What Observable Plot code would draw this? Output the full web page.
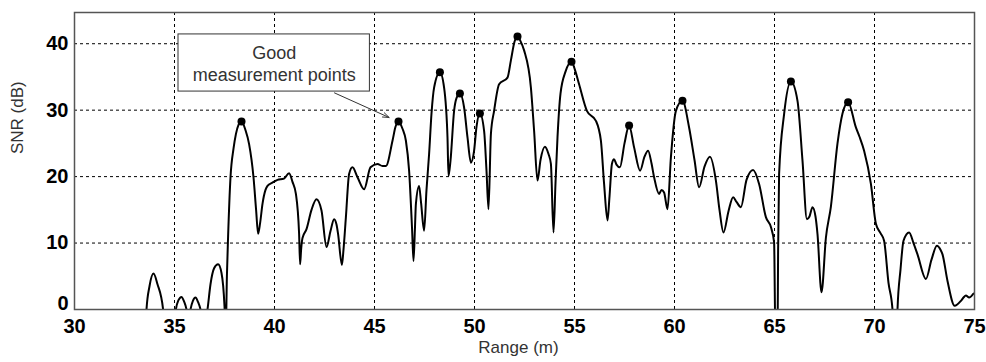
<!DOCTYPE html>
<html>
<head>
<meta charset="utf-8">
<script src="https://cdn.jsdelivr.net/npm/d3@7"></script>
<script src="https://cdn.jsdelivr.net/npm/@observablehq/plot@0.6"></script>
<style>
  html, body { margin: 0; padding: 0; background: #fff; }
  #chart svg { display: block; }
</style>
</head>
<body>
<div id="chart"></div>
<script>
// SNR trace (range in m, SNR in dB); values below 0 are clipped by the axes
const rangeM = [
  33.55, 33.6, 33.75, 33.95, 34.15, 34.43, 34.5, 35.0, 35.07, 35.2, 35.35, 35.48, 35.6, 35.7, 35.8, 35.92, 36.05, 36.18, 36.3, 36.45,
  36.65, 36.8, 36.98, 37.18, 37.35, 37.5, 37.56, 37.62, 37.68, 37.8, 37.95, 38.07, 38.2, 38.35, 38.55, 38.73, 38.95, 39.08, 39.18, 39.28,
  39.4, 39.55, 39.65, 39.9, 40.15, 40.47, 40.73, 40.9, 41.07, 41.23, 41.28, 41.33, 41.4, 41.6, 41.85, 42.1, 42.35, 42.6, 42.8, 42.98,
  43.1, 43.18, 43.37, 43.45, 43.57, 43.73, 43.9, 44.15, 44.48, 44.8, 45.15, 45.4, 45.57, 45.9, 46.05, 46.2, 46.4, 46.57, 46.73, 46.88,
  46.95, 47.02, 47.07, 47.23, 47.33, 47.48, 47.6, 47.73, 47.85, 47.98, 48.27, 48.48, 48.65, 48.7, 48.8, 48.98, 49.1, 49.27, 49.48, 49.65,
  49.82, 49.98, 50.1, 50.27, 50.48, 50.6, 50.7, 50.82, 50.98, 51.23, 51.65, 51.82, 52.0, 52.15, 52.3, 52.48, 52.82, 52.98, 53.15, 53.3,
  53.52, 53.7, 53.82, 53.95, 54.05, 54.15, 54.3, 54.55, 54.85, 55.05, 55.23, 55.62, 56.07, 56.32, 56.48, 56.65, 56.75, 56.87, 56.98, 57.1,
  57.27, 57.5, 57.73, 57.98, 58.28, 58.5, 58.68, 58.85, 58.98, 59.23, 59.35, 59.48, 59.65, 59.82, 60.07, 60.4, 60.73, 61.0, 61.23, 61.5,
  61.77, 62.07, 62.25, 62.45, 62.7, 62.93, 63.1, 63.32, 63.6, 63.93, 64.23, 64.57, 64.82, 64.98, 65.05, 65.15, 65.18, 65.23, 65.48, 65.82,
  66.15, 66.4, 66.62, 66.75, 66.9, 67.05, 67.15, 67.35, 67.57, 67.82, 68.15, 68.4, 68.68, 69.07, 69.25, 69.48, 69.82, 70.07, 70.3, 70.48,
  70.7, 70.9, 70.95, 71.1, 71.15, 71.3, 71.45, 71.73, 71.95, 72.15, 72.57, 72.85, 73.12, 73.3, 73.4, 73.65, 74.01, 74.32, 74.45, 74.57,
  74.73, 74.95
];
const snrDb = [
  -4, 0, 3.5, 5.4, 3.8, 0, -3, -3, 0, 1.4, 1.9, 1.2, 0, -2, 0, 1.3, 1.8, 1.1, 0, -3,
  0, 3.8, 6.2, 6.8, 5.5, 0.5, -4, 5, 11, 19.9, 24.2, 26.4, 27.8, 28.3, 27, 24.9, 19.9, 15, 11.4, 13,
  15.9, 18, 18.6, 19.1, 19.5, 19.7, 20.5, 19.2, 17.4, 11.4, 6.8, 9, 10.75, 12.1, 15, 16.6, 14.9, 9.4, 11.8, 13.6,
  12.8, 11.35, 6.7, 9, 13.9, 20.4, 21.4, 19.9, 18.1, 21.4, 21.9, 21.6, 21.6, 25.4, 27.5, 28.3, 27.2, 25.4, 20.9, 12,
  7.3, 12, 15.9, 18.6, 16, 11.85, 18, 23.4, 29.5, 33.4, 35.7, 33.4, 25.9, 20.1, 22.4, 29.9, 31.8, 32.5, 30.4, 25.9,
  22.1, 23.9, 27.5, 29.5, 26.9, 20.9, 15.1, 26.4, 29.9, 33.9, 34.9, 37.5, 40.3, 41.1, 40.4, 39, 33.4, 26.9, 19.4, 22.5,
  24.5, 23.4, 21.9, 11.6, 19, 25.9, 32.5, 35.8, 37.3, 35.8, 33.9, 29.9, 28.4, 25.4, 18.9, 13.4, 17, 21.9, 22.6, 21.8,
  21.4, 25, 27.7, 24.4, 20.9, 23, 23.9, 22, 19.9, 17.4, 18, 17.6, 15.1, 22.9, 29.9, 31.4, 27.4, 22.5, 18.4, 21.5,
  23.0, 19.4, 15, 11.6, 14.8, 16.9, 16.2, 15.4, 19.5, 21.0, 18.9, 13.9, 12.4, 10.1, -5, -5, 8.8, 20.4, 29.4, 34.3,
  31.4, 22.4, 13.6, 14, 15.4, 14, 11.35, 2.6, 10.8, 15.5, 25, 29.5, 31.2, 27.4, 26, 23.9, 18.9, 12.9, 11.5, 10.35,
  4, 0, -5, -5, 0, 6, 10.35, 11.6, 10, 8.3, 4.6, 7.5, 9.6, 9, 8.3, 4.3, 0.56, 1.3, 1.8, 2.1,
  1.8, 2.4
];

// "Good measurement points" (peaks)
const peakRange = [38.35, 46.2, 48.27, 49.27, 50.27, 52.15, 54.85, 57.73, 60.4, 65.82, 68.68];
const peakSnr   = [28.3, 28.3, 35.7, 32.5, 29.5, 41.1, 37.3, 27.7, 31.4, 34.3, 31.2];

// Axis ticks and labels
const xTicks = [30, 35, 40, 45, 50, 55, 60, 65, 70, 75];
const yTicks = [0, 10, 20, 30, 40];
const xLabel = "Range (m)";
const yLabel = "SNR (dB)";

// Annotation (data units)
const noteLines = ["Good", "measurement points"];
const noteLineY = [38.6, 35.2];
const noteBoxX = [35.2, 44.77];
const noteBoxY = [32.8, 41.4];
const noteArrowFrom = [43.0, 32.6];
const noteArrowTo = [45.73, 28.9];

const trace = rangeM.map((x, i) => ({x, y: snrDb[i]}));
const peaks = peakRange.map((x, i) => ({x, y: peakSnr[i]}));
const box = [{x1: noteBoxX[0], x2: noteBoxX[1], y1: noteBoxY[0], y2: noteBoxY[1]}];
const noteText = noteLines.map((t, i) => ({t, x: (noteBoxX[0] + noteBoxX[1]) / 2, y: noteLineY[i]}));
const arrowData = [{x1: noteArrowFrom[0], y1: noteArrowFrom[1], x2: noteArrowTo[0], y2: noteArrowTo[1]}];

const tickStyle = {tickSize: 0, fontSize: 20, fontWeight: "bold", fill: "#000", label: null};

const chart = Plot.plot({
  width: 986,
  height: 362,
  marginLeft: 74,
  marginRight: 12,
  marginTop: 12,
  marginBottom: 53,
  style: {background: "#fff", fontFamily: "'Liberation Sans', Arial, sans-serif", color: "#000"},
  x: {domain: [30, 75]},
  y: {domain: [0, 44.7]},
  marks: [
    Plot.gridY(yTicks.filter(d => d > 0), {stroke: "#000", strokeOpacity: 1, strokeWidth: 1, strokeDasharray: "3,3"}),
    Plot.gridX(xTicks.filter(d => d > 30 && d < 75), {stroke: "#000", strokeOpacity: 1, strokeWidth: 1, strokeDasharray: "3,3"}),
    Plot.line(trace, {x: "x", y: "y", stroke: "#000", strokeWidth: 2, clip: true, curve: "monotone-x"}),
    Plot.dot(peaks, {x: "x", y: "y", r: 4, fill: "#000", stroke: "none"}),
    Plot.rect(box, {x1: "x1", x2: "x2", y1: "y1", y2: "y2", fill: "#fff", stroke: "#333", strokeWidth: 1}),
    Plot.text(noteText, {x: "x", y: "y", text: "t", fontSize: 18, fill: "#333"}),
    Plot.arrow(arrowData, {x1: "x1", y1: "y1", x2: "x2", y2: "y2", stroke: "#333", strokeWidth: 1, headLength: 10, headAngle: 40}),
    Plot.frame({stroke: "#555", strokeWidth: 1.5}),
    Plot.axisX(xTicks, {...tickStyle, tickPadding: 9}),
    Plot.axisY(yTicks.filter(d => d > 0), {...tickStyle, tickPadding: 6}),
    Plot.axisY(yTicks.filter(d => d === 0), {...tickStyle, tickPadding: 6, dy: -6}),
    Plot.text([xLabel], {text: d => d, frameAnchor: "bottom", dy: 43, dx: -6, fontSize: 17, fill: "#333"}),
    Plot.text([yLabel], {text: d => d, frameAnchor: "left", dx: -57, dy: -7, rotate: -90, fontSize: 17, fill: "#333"})
  ]
});
document.getElementById("chart").appendChild(chart);
</script>
</body>
</html>
